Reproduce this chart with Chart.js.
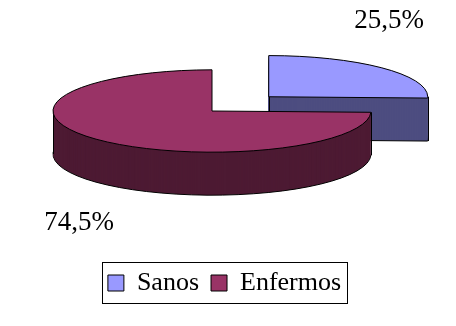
<!DOCTYPE html>
<html>
<head>
<meta charset="utf-8">
<script src="https://cdn.jsdelivr.net/npm/chart.js@4.4.0/dist/chart.umd.min.js"></script>
<style>
  html, body { margin: 0; padding: 0; background: #fff; }
  #wrap { width: 456px; height: 326px; }
</style>
</head>
<body>
<div id="wrap"><canvas id="myChart"></canvas></div>
<script>
const categories = ["Sanos", "Enfermos"];
const percentages = [25.5, 74.5];
const topColors = ["#9999FF", "#993366"];
const sideColors = ["#4D4D80", "#4D1A33"];

// look of the 3D pie (screen pixels)
const pieCenter = { x: 212, y: 111 };
const tilt = 0.259;    // ellipse height / width
const depth = 43;
const explode = [79, 0];
const labelPos = [{ x: 389, y: 21 }, { x: 79, y: 223 }];
const serif = "'Liberation Serif', 'DejaVu Serif', serif";

function toPie(ctx, arc, i, down) {
  const mid = (arc.startAngle + arc.endAngle) / 2;
  ctx.translate(pieCenter.x, pieCenter.y + down);
  ctx.scale(1, tilt);
  ctx.translate(Math.cos(mid) * explode[i] - arc.x, Math.sin(mid) * explode[i] - arc.y);
}

function slicePath(ctx, arc) {
  ctx.beginPath();
  ctx.moveTo(arc.x, arc.y);
  ctx.arc(arc.x, arc.y, arc.outerRadius, arc.startAngle, arc.endAngle);
  ctx.closePath();
}

// screen point of a rim angle (or apex when r = 0)
function rimPoint(arc, i, ang, r) {
  const mid = (arc.startAngle + arc.endAngle) / 2;
  return {
    x: pieCenter.x + Math.cos(mid) * explode[i] + Math.cos(ang) * r,
    y: pieCenter.y + (Math.sin(mid) * explode[i] + Math.sin(ang) * r) * tilt
  };
}

const pie3d = {
  id: "pie3d",
  beforeDatasetsDraw(chart) {
    const ctx = chart.ctx;
    const arcs = chart.getDatasetMeta(0).data;
    arcs.forEach((arc, i) => {
      ctx.save();
      ctx.lineWidth = 1;
      ctx.strokeStyle = "#000";
      ctx.fillStyle = sideColors[i];
      // bottom face with its outline
      ctx.save(); toPie(ctx, arc, i, depth); slicePath(ctx, arc); ctx.restore();
      ctx.fill(); ctx.stroke();
      // side walls: stacked copies
      for (let d = depth - 1; d > 0; d--) {
        ctx.save(); toPie(ctx, arc, i, d); slicePath(ctx, arc); ctx.restore();
        ctx.fill();
      }
      // vertical edges
      const s = arc.startAngle, e = arc.endAngle, R = arc.outerRadius;
      const edges = [];
      if (Math.sin(s) >= 0) edges.push(rimPoint(arc, i, s, R));
      if (Math.sin(e) >= 0) edges.push(rimPoint(arc, i, e, R));
      [0, Math.PI, 2 * Math.PI].forEach(a => { if (a > s && a < e) edges.push(rimPoint(arc, i, a, R)); });
      if (Math.cos(e) > 0.01 || Math.cos(s) < -0.01) edges.push(rimPoint(arc, i, 0, 0));
      ctx.beginPath();
      edges.forEach(p => { ctx.moveTo(Math.round(p.x) + 0.5, p.y); ctx.lineTo(Math.round(p.x) + 0.5, p.y + depth); });
      ctx.stroke();
      // top face through the arc element
      ctx.save(); toPie(ctx, arc, i, 0); arc.draw(ctx); slicePath(ctx, arc); ctx.restore();
      ctx.stroke();
      ctx.restore();
    });
    return false;
  },
  afterDraw(chart) {
    const ctx = chart.ctx;
    ctx.save();
    ctx.fillStyle = "#000";
    ctx.font = "27px " + serif;
    ctx.textAlign = "center";
    ctx.textBaseline = "middle";
    percentages.forEach((v, i) => {
      ctx.fillText(v.toFixed(1).replace(".", ",") + "%", labelPos[i].x, labelPos[i].y);
    });
    // frame around the legend
    const boxes = chart.legend.legendHitBoxes;
    const left = Math.min(...boxes.map(b => b.left));
    const right = Math.max(...boxes.map(b => b.left + b.width));
    const cy = boxes[0].top + boxes[0].height / 2;
    ctx.strokeStyle = "#000";
    ctx.lineWidth = 1;
    ctx.strokeRect(Math.round(left - 6) + 0.5, Math.round(cy - 21) + 0.5, Math.round(right - left + 12), 41);
    ctx.restore();
  }
};

const ctx = document.getElementById("myChart").getContext("2d");
const myChart = new Chart(ctx, {
  type: "pie",
  data: {
    labels: categories,
    datasets: [
      {
        data: percentages,
        backgroundColor: topColors,
        borderWidth: 0,
        radius: 159,
      },
    ],
  },
  options: {
    responsive: true,
    maintainAspectRatio: false,
    animation: false,
    layout: { padding: { left: 0, right: 7, bottom: 20 } },
    plugins: {
      tooltip: { enabled: false },
      legend: {
        position: "bottom",
        labels: {
          color: "#000",
          font: { family: serif, size: 26 },
          boxWidth: 16,
          boxHeight: 16,
          padding: 12,
          generateLabels: (chart) =>
            Chart.overrides.pie.plugins.legend.labels.generateLabels(chart).map(l => ({ ...l, strokeStyle: "#000", lineWidth: 1 })),
        },
      },
    },
  },
  plugins: [pie3d],
});
</script>
</body>
</html>
